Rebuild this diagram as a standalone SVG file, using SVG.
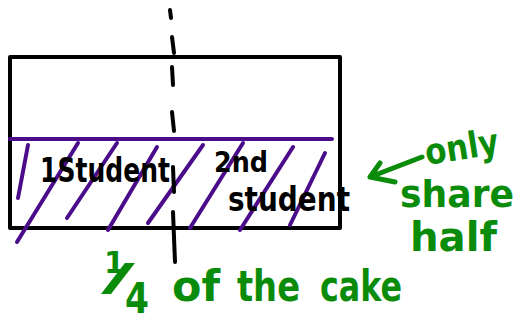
<svg xmlns="http://www.w3.org/2000/svg" width="522" height="324" viewBox="0 0 522 324">
  <style>
    .ink { fill: none; stroke: #000; stroke-width: 4; stroke-linecap: round; stroke-linejoin: round; }
    .purple { fill: none; stroke: #4B0C8A; stroke-width: 4; stroke-linecap: round; }
    .green { fill: none; stroke: #0A8C0A; stroke-width: 5; stroke-linecap: round; stroke-linejoin: round; }
    .blk { font-family: "DejaVu Sans", "Liberation Sans", sans-serif; font-weight: bold; fill: #000; }
    .grn { font-family: "DejaVu Sans", "Liberation Sans", sans-serif; font-weight: bold; fill: #0A8C0A; }
  </style>
  <rect width="522" height="324" fill="#fff"/>
  <g id="cake">
    <rect class="ink" x="10" y="57" width="330" height="171"/>
    <line class="purple" x1="10" y1="139" x2="332" y2="139"/>
    <g id="hatching">
      <line class="purple" x1="28" y1="145" x2="18" y2="198"/>
      <line class="purple" x1="78" y1="143" x2="17" y2="242"/>
      <line class="purple" x1="117" y1="143" x2="67" y2="218"/>
      <line class="purple" x1="157" y1="147" x2="108" y2="230"/>
      <line class="purple" x1="203" y1="145" x2="148" y2="223"/>
      <line class="purple" x1="243" y1="143" x2="190" y2="228"/>
      <line class="purple" x1="293" y1="147" x2="240" y2="230"/>
      <line class="purple" x1="325" y1="153" x2="290" y2="225"/>
    </g>
  </g>
  <g id="divider">
    <line class="ink" x1="170" y1="10" x2="171" y2="18"/>
    <line class="ink" x1="172" y1="37" x2="174" y2="53"/>
    <line class="ink" x1="172" y1="67" x2="173" y2="85"/>
    <line class="ink" x1="172" y1="112" x2="174" y2="131"/>
    <line class="ink" x1="173" y1="167" x2="174" y2="192"/>
    <line class="ink" x1="173" y1="212" x2="175" y2="262"/>
  </g>
  <g id="student-labels">
    <text class="blk" x="40" y="182" font-size="34" textLength="130" lengthAdjust="spacingAndGlyphs">1Student</text>
    <text class="blk" x="214" y="172" font-size="28" textLength="54" lengthAdjust="spacingAndGlyphs">2nd</text>
    <text class="blk" x="228" y="211" font-size="34" textLength="122" lengthAdjust="spacingAndGlyphs">student</text>
  </g>
  <g id="note">
    <path class="green" d="M422 157 L370 177 M370 177 L380 163 M370 177 L395 182"/>
    <text class="grn" x="427" y="165" font-size="36" textLength="74" lengthAdjust="spacingAndGlyphs" transform="rotate(-9 427 165)">only</text>
    <text class="grn" x="400" y="207" font-size="38" textLength="114" lengthAdjust="spacingAndGlyphs">share</text>
    <text class="grn" x="410" y="251" font-size="40" textLength="87" lengthAdjust="spacingAndGlyphs">half</text>
  </g>
  <g id="fraction-label">
    <text class="grn"><tspan x="104" y="273" font-size="30">1</tspan><tspan x="101" y="290" font-size="38" textLength="34" lengthAdjust="spacingAndGlyphs">/</tspan><tspan x="125" y="313" font-size="42" textLength="24" lengthAdjust="spacingAndGlyphs">4</tspan></text>
    <text class="grn" x="172" y="301" font-size="42" textLength="48" lengthAdjust="spacingAndGlyphs">of</text>
    <text class="grn" x="237" y="301" font-size="42" textLength="63" lengthAdjust="spacingAndGlyphs">the</text>
    <text class="grn" x="320" y="301" font-size="42" textLength="82" lengthAdjust="spacingAndGlyphs">cake</text>
  </g>
</svg>
